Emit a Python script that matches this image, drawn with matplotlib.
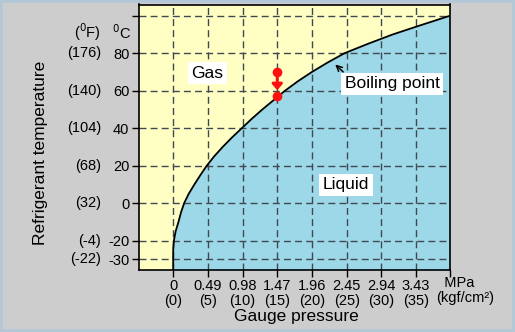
import matplotlib
matplotlib.use("Agg")
import matplotlib.pyplot as plt
from matplotlib.patches import Rectangle
from matplotlib.transforms import blended_transform_factory

plt.rcParams['font.family'] = ['Liberation Sans', 'DejaVu Sans']

# Boiling point curve (temperature °C vs gauge pressure MPa)
curve_temp = [-36, -30, -25, -20, -15, -10, -5, 0, 5, 10, 15, 20, 25, 30, 35, 40,
              45, 50, 55, 60, 65, 70, 75, 80, 85, 90, 95, 100]
curve_press = [0.0, 0.0, 0.0, 0.01, 0.035, 0.075, 0.11, 0.155, 0.22, 0.30, 0.385, 0.475,
               0.58, 0.70, 0.83, 0.97, 1.11, 1.26, 1.42, 1.58, 1.76, 1.96, 2.18, 2.42,
               2.75, 3.10, 3.50, 3.91]

x_ticks_mpa = [0, 0.49, 0.98, 1.47, 1.96, 2.45, 2.94, 3.43]
x_ticks_kgf = ["0", "5", "10", "15", "20", "25", "30", "35"]
y_ticks_c = [-30, -20, 0, 20, 40, 60, 80]
y_ticks_f = ["-22", "-4", "32", "68", "104", "140", "176"]
grid_y = [-30, -20, 0, 20, 40, 60, 80, 100]

point_press = 1.47
point_temps = [70.2, 57.0]

W, H = 515, 332
fig = plt.figure(figsize=(W / 100, H / 100), dpi=100)
fig.patch.set_facecolor('#cdcdcd')
fig.patches.append(Rectangle((0, 0), 1, 1, transform=fig.transFigure, fill=False,
                             edgecolor='#b2c8d6', linewidth=4, zorder=0))

ax = fig.add_axes([138.5 / W, 1 - 270 / H, (450 - 138.5) / W, (270 - 4.5) / H])
xmin, xmax = -0.49, 3.91
ymin, ymax = -35.7, 106
ax.set_xlim(xmin, xmax)
ax.set_ylim(ymin, ymax)
ax.set_facecolor('#ffffc4')

ax.fill_betweenx(curve_temp, curve_press, xmax, color='#9dd8e8', zorder=1, linewidth=0)
ax.plot(curve_press, curve_temp, color='black', linewidth=1.3, zorder=3)

gs = dict(color='#404850', linewidth=1.0, linestyle=(0, (5, 3)), zorder=2)
for x in x_ticks_mpa:
    ax.axvline(x, **gs)
for y in grid_y:
    ax.axhline(y, **gs)

for s in ax.spines.values():
    s.set_color('black')
    s.set_linewidth(1.2)
    s.set_zorder(5)

# ticks
ax.set_yticks(y_ticks_c + [100])
ax.set_yticklabels([str(v) for v in y_ticks_c] + [""], fontsize=10.5)
ax.set_xticks(x_ticks_mpa + [xmax])
ax.set_xticklabels([f"{m:g}\n({k})" for m, k in zip(x_ticks_mpa, x_ticks_kgf)] + [""],
                   fontsize=10.5, linespacing=1.05)
ax.tick_params(axis='both', direction='out', length=5, width=1, pad=1.5)

# °F labels
tr = blended_transform_factory(fig.transFigure, ax.transData)
for c, f in zip(y_ticks_c, y_ticks_f):
    ax.text(101 / W, c, f"({f})", transform=tr, ha='right', va='center', fontsize=10.5)
ax.text(101 / W, 91, r"($^0$F)", transform=tr, ha='right', va='center', fontsize=10.5)
ax.text(131 / W, 91, r"$^0$C", transform=tr, ha='right', va='center', fontsize=10.5)

# unit labels at right
fig.text(436 / W, 1 - 290.5 / H, "  MPa\n(kgf/cm²)", ha='left', va='center',
         multialignment='left', fontsize=10.5, linespacing=1.05)

fig.text(296 / W, 1 - 316.5 / H, "Gauge pressure", ha='center', va='center', fontsize=12.5)
fig.text(41 / W, 1 - 153 / H, "Refrigerant temperature", ha='center', va='center',
         rotation=90, fontsize=12.5)

box = dict(facecolor='white', edgecolor='none', pad=2.5)
ax.text(0.483, 69.3, "Gas", ha='center', va='center', fontsize=12.5, bbox=box, zorder=6)
ax.text(2.443, 9.7, "Liquid", ha='center', va='center', fontsize=12.5, bbox=box, zorder=6)
ax.text(3.09, 63.6, "Boiling point", ha='center', va='center', fontsize=12.5, bbox=box, zorder=6)
ax.annotate("", xy=(2.26, 75), xytext=(2.43, 69),
            arrowprops=dict(arrowstyle='->', color='black', lw=1.1), zorder=6)

# red points and arrow
ax.plot([point_press] * len(point_temps), point_temps, 'o', color='#ff1010',
        markersize=7, zorder=7, markeredgewidth=0)
ax.annotate("", xy=(point_press, point_temps[1] + 3.2), xytext=(point_press, point_temps[0] - 3),
            arrowprops=dict(arrowstyle='-|>,head_width=0.3,head_length=0.35',
                            color='#ff1010', lw=2.2, shrinkA=0, shrinkB=0), zorder=7)

fig.savefig("out.png", dpi=100, facecolor=fig.get_facecolor())
